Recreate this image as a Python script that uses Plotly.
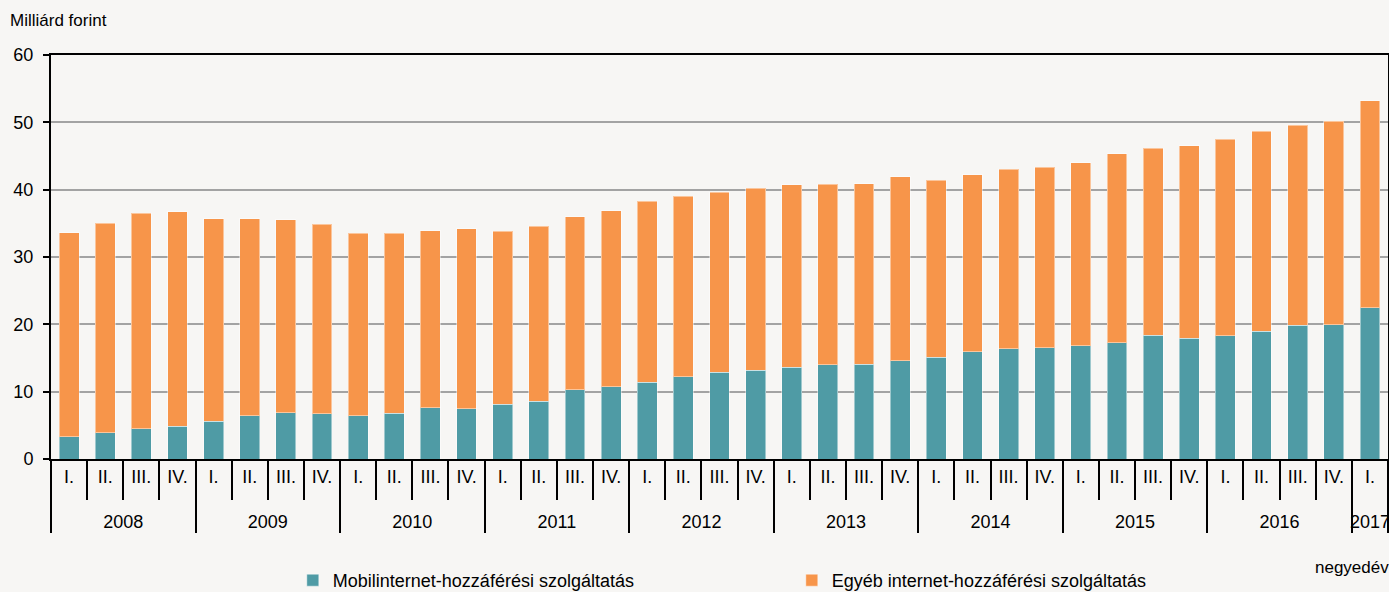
import plotly.graph_objects as go

years = ["2008"] * 4 + ["2009"] * 4 + ["2010"] * 4 + ["2011"] * 4 + ["2012"] * 4 + \
        ["2013"] * 4 + ["2014"] * 4 + ["2015"] * 4 + ["2016"] * 4 + ["2017"]
quarters = ["I.", "II.", "III.", "IV."] * 9 + ["I."]

mobile = [3.3, 3.9, 4.5, 4.9, 5.6, 6.4, 6.9, 6.7, 6.4, 6.8, 7.6, 7.5, 8.1, 8.6,
          10.3, 10.7, 11.4, 12.2, 12.9, 13.2, 13.6, 14.0, 14.1, 14.6, 15.1, 15.9,
          16.4, 16.5, 16.8, 17.3, 18.35, 17.9, 18.3, 19.0, 19.85, 19.95, 22.5]
other = [30.3, 31.1, 32.0, 31.8, 30.1, 29.3, 28.6, 28.2, 27.1, 26.7, 26.3, 26.7,
         25.7, 26.0, 25.7, 26.2, 26.9, 26.8, 26.7, 27.0, 27.1, 26.8, 26.8, 27.3,
         26.3, 26.3, 26.6, 26.8, 27.2, 28.0, 27.8, 28.6, 29.2, 29.7, 29.7, 30.2, 30.7]

names = ["Mobilinternet-hozzáférési szolgáltatás", "Egyéb internet-hozzáférési szolgáltatás"]
colors = ["#4f9ba5", "#f7954a"]

FONT = "Liberation Sans, Arial, sans-serif"
BG = "#f7f6f4"

# extra blank line under quarter labels pushes the year row lower (as in the reference)
quarter_labels = [q + "<br> " for q in quarters]

fig = go.Figure()
for vals, name, col in zip([mobile, other], names, colors):
    fig.add_trace(go.Bar(
        x=[years, quarter_labels], y=vals, name=name,
        marker=dict(color=col, line=dict(color="rgba(255,255,255,0.45)", width=1)),
    ))

fig.update_layout(
    width=1389, height=592,
    barmode="stack", bargap=0.45,
    paper_bgcolor=BG, plot_bgcolor=BG,
    font=dict(family=FONT, size=18, color="#000000"),
    margin=dict(l=51, r=1, t=55, b=133, autoexpand=False),
    showlegend=True,
    legend=dict(
        orientation="h", xref="container", yref="paper",
        x=0.2108, y=-0.3465, xanchor="left", yanchor="bottom",
        entrywidth=454, entrywidthmode="pixels", traceorder="normal",
        itemwidth=30, font=dict(size=18, family=FONT),
        bgcolor="rgba(0,0,0,0)",
    ),
    xaxis=dict(
        type="multicategory",
        showline=True, linecolor="#000000", linewidth=2, mirror=True,
        ticks="outside", ticklen=39, tickwidth=2, tickcolor="#000000",
        showdividers=True, dividercolor="#000000", dividerwidth=2,
        showgrid=False, tickfont=dict(size=18, family=FONT),
    ),
    yaxis=dict(
        range=[0, 60], dtick=10, tick0=0,
        showline=True, linecolor="#000000", linewidth=2, mirror=True,
        ticks="outside", ticklen=6, tickwidth=2, tickcolor="#000000",
        ticklabelstandoff=6,
        showgrid=True, gridcolor="#a3a3a3", gridwidth=1.5,
        zeroline=False, tickfont=dict(size=18, family=FONT),
    ),
    annotations=[
        dict(text="Milliárd forint", xref="paper", yref="paper",
             x=-0.0322, y=1.085, xanchor="left", yanchor="middle",
             showarrow=False, font=dict(size=17, family=FONT)),
        dict(text="negyedév", xref="paper", yref="paper",
             x=(1313 - 51) / 1337, y=(459 - 567) / 404, xanchor="left", yanchor="middle",
             showarrow=False, font=dict(size=17, family=FONT)),
    ],
)

fig.write_html("out.html", config={"displayModeBar": False},
               post_script="document.body.style.margin='0';document.body.style.overflow='hidden';")
